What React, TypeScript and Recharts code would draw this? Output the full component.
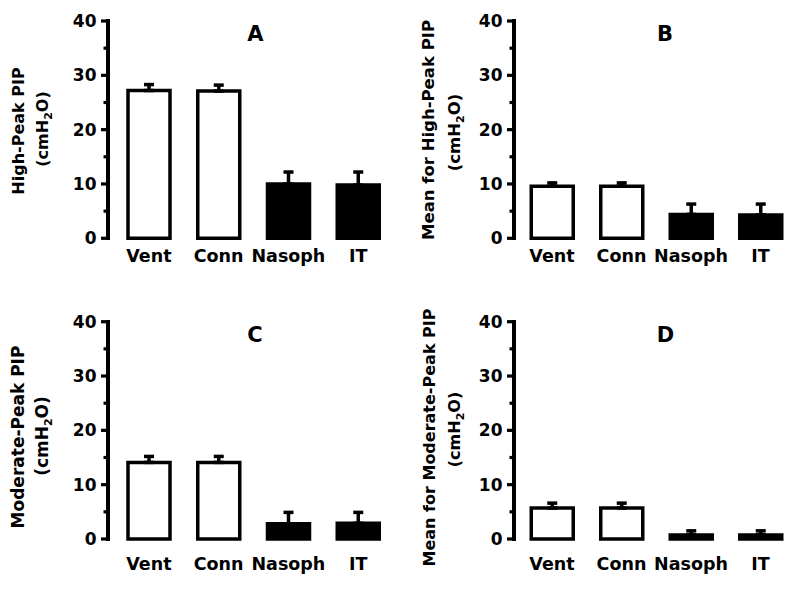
import React from 'react';
import { BarChart, Bar, XAxis, YAxis, ErrorBar, Cell } from 'recharts';

const categories = ['Vent', 'Conn', 'Nasoph', 'IT'];
const barFills = ['#ffffff', '#ffffff', '#000000', '#000000'];
const yTicks = [0, 5, 10, 15, 20, 25, 30, 35, 40];

const highPeakMeans = [27.2, 27.1, 10.0, 9.8];
const highPeakErrors = [1.1, 1.1, 2.2, 2.4];
const meanHighPeakMeans = [9.6, 9.6, 4.4, 4.3];
const meanHighPeakErrors = [0.6, 0.6, 1.9, 2.0];
const moderatePeakMeans = [14.1, 14.1, 2.8, 2.9];
const moderatePeakErrors = [1.1, 1.1, 2.1, 2.0];
const meanModeratePeakMeans = [5.7, 5.7, 0.75, 0.75];
const meanModeratePeakErrors = [0.9, 0.9, 0.75, 0.75];

const FONT = '"DejaVu Sans", Verdana, sans-serif';
const X_AXIS_HEIGHT = 40;
const AXIS_W = 4;

function buildRows(means: number[], errs: number[]) {
  return categories.map((c, i) => ({ name: c, value: means[i], err: [0, errs[i]] }));
}

const YTick = (props: any) => {
  const { x, y, payload } = props;
  const major = payload.value % 10 === 0;
  const ax = Number(x) - AXIS_W;
  const yy = Number(y);
  return (
    <g>
      <rect x={ax - (major ? 5 : 2.5)} y={yy - 1.6} width={(major ? 5 : 2.5) + AXIS_W} height={3.2} fill="#000" />
      {major && (
        <text x={ax - 9.5} y={yy} dy="0.36em" textAnchor="end" fontFamily={FONT} fontWeight="bold" fontSize={17} fill="#000">
          {payload.value}
        </text>
      )}
    </g>
  );
};

const PanelText = (props: any) => {
  const { line1, line1X, line1Y, line2X, line2Y, letter, letterX, letterY, labelSize, axisX, axisTop, axisBottom } = props;
  return (
    <g>
      <rect x={axisX - AXIS_W} y={axisTop - 1.6} width={AXIS_W} height={axisBottom - axisTop + 3.2} fill="#000" />
      <text transform={`translate(${line1X},${line1Y}) rotate(-90)`} textAnchor="middle" fontFamily={FONT} fontWeight="bold" fontSize={labelSize} fill="#000">
        {line1}
      </text>
      <text transform={`translate(${line2X},${line2Y}) rotate(-90)`} textAnchor="middle" fontFamily={FONT} fontWeight="bold" fontSize={labelSize} fill="#000">
        (cmH<tspan fontSize={11} dy={4}>2</tspan><tspan dy={-4}>O)</tspan>
      </text>
      <text x={letterX} y={letterY} textAnchor="middle" fontFamily={FONT} fontWeight="bold" fontSize={21} fill="#000">
        {letter}
      </text>
    </g>
  );
};

type PanelProps = {
  left: number; top: number; height: number;
  means: number[]; errs: number[];
  marginTop: number; marginRight: number; marginBottom: number;
  axisX: number; padLeft: number; xTickMargin: number;
  line1: string; line1X: number; line1Y: number; line2X: number; line2Y: number;
  letter: string; letterX: number; letterY: number; labelSize: number;
};

const Panel = (p: PanelProps) => {
  const data = buildRows(p.means, p.errs);
  const axisBottom = p.height - p.marginBottom - X_AXIS_HEIGHT;
  const yAxisWidth = p.axisX + AXIS_W / 2;
  return (
    <div style={{ position: 'absolute', left: p.left, top: p.top, width: 400, height: p.height }}>
      <BarChart width={400} height={p.height} data={data}
        margin={{ top: p.marginTop, right: p.marginRight, bottom: p.marginBottom, left: 0 }}>
        <XAxis dataKey="name" axisLine={false} tickLine={false} tickSize={0} tickMargin={p.xTickMargin}
          height={X_AXIS_HEIGHT} padding={{ left: p.padLeft - AXIS_W / 2, right: 0 }} interval={0}
          tick={{ fontFamily: FONT, fontWeight: 'bold', fontSize: 17.5, fill: '#000' }} />
        <YAxis width={yAxisWidth} domain={[0, 40]} ticks={yTicks} interval={0} tickSize={0} tickMargin={0}
          tickLine={false} axisLine={false} tick={<YTick />}
          label={<PanelText line1={p.line1} line1X={p.line1X} line1Y={p.line1Y} line2X={p.line2X} line2Y={p.line2Y}
            letter={p.letter} letterX={p.letterX} letterY={p.letterY} labelSize={p.labelSize}
            axisX={yAxisWidth} axisTop={p.marginTop} axisBottom={axisBottom} />} />
        <Bar dataKey="value" barSize={42} stroke="#000" strokeWidth={3.5} isAnimationActive={false}>
          {data.map((d, i) => (
            <Cell key={d.name} fill={barFills[i]} stroke="#000" />
          ))}
          <ErrorBar dataKey="err" width={5} stroke="#000" strokeWidth={3.5} direction="y" isAnimationActive={false} />
        </Bar>
      </BarChart>
      <div style={{
        position: 'absolute', left: yAxisWidth - AXIS_W, top: p.marginTop - 1.6, width: AXIS_W,
        height: axisBottom - p.marginTop + 3.2, background: '#000', zIndex: 5, pointerEvents: 'none',
      }} />
    </div>
  );
};

export default function App() {
  return (
    <div style={{ position: 'absolute', left: 0, top: 0, width: 800, height: 589, background: '#fff' }}>
      <Panel left={0} top={0} height={295} means={highPeakMeans} errs={highPeakErrors}
        marginTop={21} marginRight={7} marginBottom={16.7} axisX={108} padLeft={6} xTickMargin={11}
        line1="High-Peak PIP" line1X={24} line1Y={131} line2X={48} line2Y={129}
        letter="A" letterX={255.5} letterY={41} labelSize={16} />
      <Panel left={400} top={0} height={295} means={meanHighPeakMeans} errs={meanHighPeakErrors}
        marginTop={21} marginRight={4.75} marginBottom={16.7} axisX={114} padLeft={3.25} xTickMargin={11}
        line1="Mean for High-Peak PIP" line1X={34.4} line1Y={130} line2X={59.7} line2Y={132.5}
        letter="B" letterX={265} letterY={41} labelSize={16.5} />
      <Panel left={0} top={300} height={289} means={moderatePeakMeans} errs={moderatePeakErrors}
        marginTop={21.7} marginRight={7} marginBottom={10} axisX={108} padLeft={6} xTickMargin={18.5}
        line1="Moderate-Peak PIP" line1X={24} line1Y={137} line2X={48} line2Y={136}
        letter="C" letterX={255} letterY={41.5} labelSize={17} />
      <Panel left={400} top={300} height={289} means={meanModeratePeakMeans} errs={meanModeratePeakErrors}
        marginTop={21.7} marginRight={4.75} marginBottom={10} axisX={114} padLeft={3.25} xTickMargin={18.5}
        line1="Mean for Moderate-Peak PIP" line1X={34.5} line1Y={137.5} line2X={59.7} line2Y={129.5}
        letter="D" letterX={265.5} letterY={42} labelSize={16} />
    </div>
  );
}
